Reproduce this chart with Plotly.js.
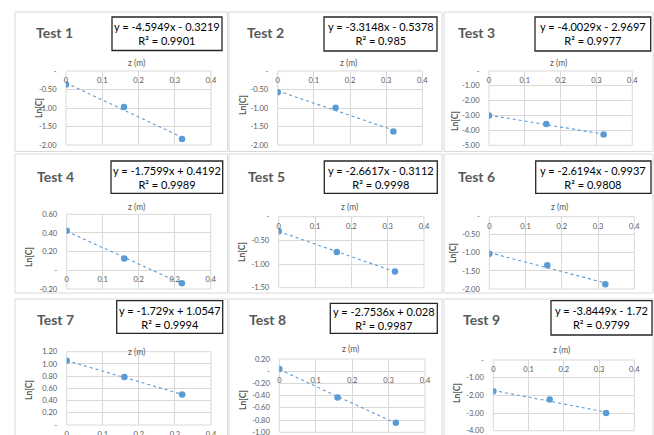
<!DOCTYPE html>
<html>
<head>
<meta charset="utf-8">
<script src="https://cdn.plot.ly/plotly-3.0.1.min.js"></script>
<style>html,body{margin:0;padding:0;background:#fff;}#chart{width:654px;height:435px;}</style>
</head>
<body>
<div id="chart"></div>
<script>
// ---------- DATA ----------
const testNames = ['Test 1','Test 2','Test 3','Test 4','Test 5','Test 6','Test 7','Test 8','Test 9'];
const zValues = [0, 0.16, 0.32];
const lnC1 = [-0.364, -0.972, -1.835];
const lnC2 = [-0.576, -0.993, -1.636];
const lnC3 = [-2.987, -3.575, -4.268];
const lnC4 = [0.425, 0.127, -0.139];
const lnC5 = [-0.308, -0.744, -1.159];
const lnC6 = [-1.028, -1.345, -1.866];
const lnC7 = [1.051, 0.786, 0.498];
const lnC8 = [0.037, -0.431, -0.844];
const lnC9 = [-1.771, -2.234, -3.001];
const seriesLnC = [lnC1, lnC2, lnC3, lnC4, lnC5, lnC6, lnC7, lnC8, lnC9];
const slopes = [-4.5949, -3.3148, -4.0029, -1.7599, -2.6617, -2.6194, -1.729, -2.7536, -3.8449];
const intercepts = [-0.3219, -0.5378, -2.9697, 0.4192, -0.3112, -0.9937, 1.0547, 0.028, -1.72];
const rSquared = ['0.9901', '0.985', '0.9977', '0.9989', '0.9998', '0.9808', '0.9994', '0.9987', '0.9799'];
const xTickVals = [0, 0.1, 0.2, 0.3, 0.4];
const xTickText = ['0', '0.1', '0.2', '0.3', '0.4'];
const yTickVals1 = [-2, -1.5, -1, -0.5, 0];
const yTickText1 = ['-2.00', '-1.50', '-1.00', '-0.50', '-'];
const yTickVals3 = [-5, -4, -3, -2, -1, 0];
const yTickText3 = ['-5.00', '-4.00', '-3.00', '-2.00', '-1.00', '-'];
const yTickVals4 = [-0.2, 0, 0.2, 0.4, 0.6];
const yTickText4 = ['-0.20', '-', '0.20', '0.40', '0.60'];
const yTickVals5 = [-1.5, -1, -0.5, 0];
const yTickText5 = ['-1.50', '-1.00', '-0.50', '-'];
const yTickVals7 = [0, 0.2, 0.4, 0.6, 0.8, 1.0, 1.2];
const yTickText7 = ['-', '0.20', '0.40', '0.60', '0.80', '1.00', '1.20'];
const yTickVals8 = [-1.0, -0.8, -0.6, -0.4, -0.2, 0, 0.2];
const yTickText8 = ['-1.00', '-0.80', '-0.60', '-0.40', '-0.20', '-', '0.20'];
const yTickVals9 = [-4, -3, -2, -1, 0];
const yTickText9 = ['-4.00', '-3.00', '-2.00', '-1.00', '-'];
const yTicksPerPanel = [
  [yTickVals1, yTickText1], [yTickVals1, yTickText1], [yTickVals3, yTickText3],
  [yTickVals4, yTickText4], [yTickVals5, yTickText5], [yTickVals1, yTickText1],
  [yTickVals7, yTickText7], [yTickVals8, yTickText8], [yTickVals9, yTickText9]
];

// ---------- LAYOUT GEOMETRY (pixels) ----------
const W = 654, H = 435;
const yRanges = [[-2,0],[-2,0],[-5,0],[-0.2,0.6],[-1.5,0],[-2,0],[0,1.2],[-1,0.2],[-4,0]];
const plotBox = [
  [66, 211, 71, 145], [277.7, 422.3, 71, 145], [489, 632.3, 71, 145.3],
  [66.7, 210.7, 214.3, 289], [278.7, 424, 216.7, 287.7], [489.3, 634.3, 216.7, 289],
  [66.7, 211, 351.7, 425], [279.3, 425, 359, 432.3], [493.3, 634.3, 360, 430.7]
];
const titlePos = [[54,32],[265.7,32],[476.7,32],[55,176],[266.7,176],[476.7,176],[55,319.5],[267.7,319.5],[481.7,319.5]];
const eqBox = [
  [112,222,17,50.5],[324,437,17,51],[535,650.7,17,51],
  [111,222.7,161,193.3],[324.3,437.3,161,193.3],[535.7,651,161,193.3],
  [116.7,222.7,300.7,333.3],[330.3,437.3,303.3,333.3],[551,652,300.7,335]
];
const zLabelY = [63,63,63,206.7,206.7,206.7,351.7,349,350];
const lnLabelPos = [[39,108],[243,105],[455,121],[29,257],[242,252],[453,253],[29,390],[243,400],[457,393]];
const colX = [[15,227.5],[229,442],[444,653]];
const rowY = [[12,151.5],[154,293],[299,440]];

const px = x => x / W;
const py = y => 1 - y / H;

const grid = '#d9d9d9';
const txt = '#595959';
const blue = '#5b9bd5';
const FONT = 'Lato, "Open Sans", sans-serif';

const traces = [];
const layout = {
  width: W, height: H,
  margin: {l:0, r:0, t:0, b:0},
  paper_bgcolor: '#fff', plot_bgcolor: 'rgba(0,0,0,0)',
  showlegend: false,
  font: {family: FONT, color: txt},
  shapes: [], annotations: []
};

for (let r = 0; r < 3; r++) for (let c = 0; c < 3; c++) {
  layout.shapes.push({type:'rect', xref:'paper', yref:'paper', layer:'below',
    x0: px(colX[c][0]), x1: px(colX[c][1]), y0: py(rowY[r][1]), y1: py(rowY[r][0]),
    line:{color:grid, width:1}, fillcolor:'rgba(0,0,0,0)'});
}

const EPS = 1e-6;
for (let i = 0; i < 9; i++) {
  const n = i + 1;
  const xa = 'x' + n, ya = 'y' + n;
  const xk = 'xaxis' + (n === 1 ? '' : n), yk = 'yaxis' + (n === 1 ? '' : n);
  const [bx0, bx1, byT, byB] = plotBox[i];
  const dy0 = py(byB), dy1 = py(byT);
  const rg = [yRanges[i][0] - EPS, yRanges[i][1] + EPS];
  const zeroPos = dy0 + (0 - rg[0]) / (rg[1] - rg[0]) * (dy1 - dy0);

  const tx = [zValues[0], zValues[zValues.length - 1]];
  const ty = tx.map(x => slopes[i] * x + intercepts[i]);
  traces.push({x: tx, y: ty, xaxis: xa, yaxis: ya, mode: 'lines', type: 'scatter',
    line: {color: blue, width: 1.1, dash: 'dot'}, hoverinfo: 'skip'});
  traces.push({x: zValues, y: seriesLnC[i], xaxis: xa, yaxis: ya, mode: 'markers', type: 'scatter',
    marker: {color: blue, size: 6.5}});

  layout[xk] = {
    domain: [px(bx0), px(bx1)], range: [0 - EPS, 0.4 + EPS], anchor: 'free', position: zeroPos,
    side: 'bottom', tickvals: xTickVals, ticktext: xTickText,
    showgrid: true, gridcolor: grid, gridwidth: 1, zeroline: false, showline: false,
    ticks: 'outside', ticklen: 2, tickcolor: 'rgba(0,0,0,0)', ticklabeloverflow: 'allow',
    tickfont: {size: 7.5, color: txt, family: FONT}, fixedrange: true
  };
  layout[yk] = {
    domain: [dy0, dy1], range: rg, anchor: xa,
    tickvals: yTicksPerPanel[i][0], ticktext: yTicksPerPanel[i][1],
    showgrid: true, gridcolor: grid, gridwidth: 1, zeroline: false, showline: false,
    ticks: 'outside', ticklen: 7, tickcolor: 'rgba(0,0,0,0)', ticklabeloverflow: 'allow',
    tickfont: {size: 7.5, color: txt, family: FONT}, fixedrange: true
  };
  layout.shapes.push({type:'rect', xref:'paper', yref:'paper', layer:'below',
    x0: px(bx0), x1: px(bx1), y0: dy0, y1: dy1, line:{color:grid, width:1}});

  layout.annotations.push({xref:'paper', yref:'paper', x: px(titlePos[i][0]), y: py(titlePos[i][1]),
    xanchor:'center', yanchor:'middle', showarrow:false, text: '<b>' + testNames[i] + '</b>',
    font:{size: 14, color: txt, family: FONT}});
  const eb = eqBox[i];
  const bStr = intercepts[i] < 0 ? ' - ' + String(Math.abs(intercepts[i])) : ' + ' + String(intercepts[i]);
  const eqStr = 'y = ' + String(slopes[i]) + 'x' + bStr + '<br>R² = ' + rSquared[i];
  layout.shapes.push({type:'rect', xref:'paper', yref:'paper',
    x0: px(eb[0]), x1: px(eb[1]), y0: py(eb[3]), y1: py(eb[2]),
    line:{color:'#262626', width:1.3}, fillcolor:'#fff'});
  layout.annotations.push({xref:'paper', yref:'paper', x: px((eb[0]+eb[1])/2), y: py((eb[2]+eb[3])/2),
    xanchor:'center', yanchor:'middle', showarrow:false, align:'center', text: eqStr,
    font:{size: 11, color:'#000', family: FONT}});
  layout.annotations.push({xref:'paper', yref:'paper', x: px((bx0 + bx1)/2 - 2), y: py(zLabelY[i]),
    xanchor:'center', yanchor:'middle', showarrow:false, text:'z (m)',
    font:{size: 8.5, color: txt, family: FONT}});
  layout.annotations.push({xref:'paper', yref:'paper', x: px(lnLabelPos[i][0]), y: py(lnLabelPos[i][1]),
    xanchor:'center', yanchor:'middle', showarrow:false, text:'<b>Ln[C]</b>', textangle:-90,
    font:{size: 8.5, color: txt, family: FONT}});
}

Plotly.newPlot('chart', traces, layout, {displayModeBar:false, staticPlot:true});
</script>
</body>
</html>
